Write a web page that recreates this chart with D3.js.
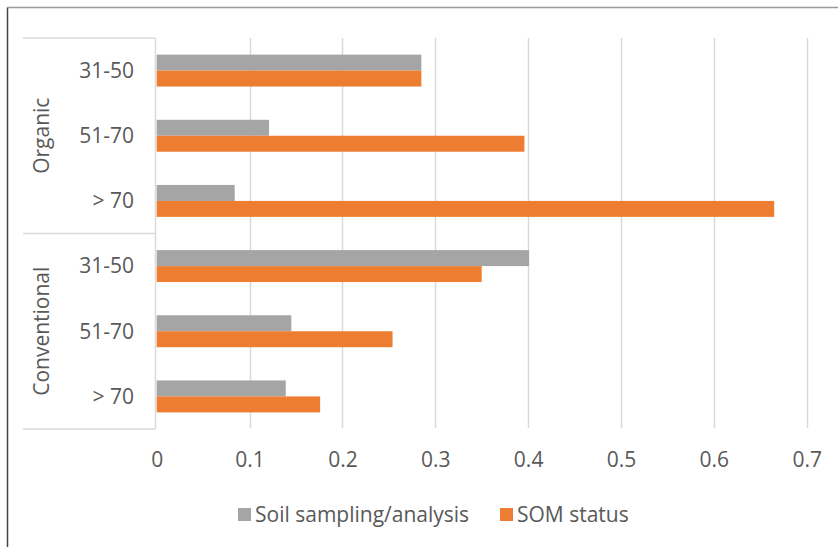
<!DOCTYPE html>
<html>
<head>
<meta charset="utf-8">
<script src="https://cdn.jsdelivr.net/npm/d3@7/dist/d3.min.js"></script>
<style>
  html, body { margin: 0; padding: 0; background: #ffffff; }
  svg { display: block; font-family: "Open Sans", "Noto Sans", sans-serif; }
</style>
</head>
<body>
<svg id="chart" width="838" height="547"></svg>
<script>
// Farm groups and age classes, top to bottom
const groups = ["Organic", "Conventional"];
const ageClasses = ["31-50", "51-70", "> 70"];

// Share of farmers per group/age class
const seriesNames = ["Soil sampling/analysis", "SOM status"];
const soilSampling = [0.285, 0.121, 0.084, 0.401, 0.145, 0.139];
const somStatus    = [0.285, 0.396, 0.665, 0.350, 0.254, 0.176];

const xTicks = [0, 0.1, 0.2, 0.3, 0.4, 0.5, 0.6, 0.7];
const tickLabels = ["0", "0.1", "0.2", "0.3", "0.4", "0.5", "0.6", "0.7"];

const colors = ["#a5a5a5", "#ed7d31"];
const textColor = "#595959";
const gridColor = "#d9d9d9";
const fontSize = 21;

const rows = [];
groups.forEach((g, gi) => ageClasses.forEach((a, ai) => {
  const i = gi * ageClasses.length + ai;
  rows.push({ key: g + "|" + a, group: g, age: a, values: [soilSampling[i], somStatus[i]] });
}));

const svg = d3.select("#chart");

// Outer frame (left and top edges)
svg.append("line").attr("x1", 7.5).attr("x2", 7.5).attr("y1", 7).attr("y2", 547)
  .attr("stroke", "#444").attr("stroke-width", 1.5);
svg.append("line").attr("x1", 7).attr("x2", 838).attr("y1", 7.5).attr("y2", 7.5)
  .attr("stroke", "#999").attr("stroke-width", 1.5);

const plotTop = 38, plotBottom = 429;
const x = d3.scaleLinear().domain([0, 0.7]).range([156.7, 806.7]);
const y = d3.scaleBand().domain(rows.map(r => r.key)).range([plotTop, plotBottom])
  .paddingInner(0.51).paddingOuter(0.255);
const ySub = d3.scaleBand().domain([0, 1]).range([0, y.bandwidth()]);

// Vertical gridlines
svg.append("g").selectAll("line").data(xTicks.slice(1)).join("line")
  .attr("x1", d => Math.round(x(d)) + 0.5).attr("x2", d => Math.round(x(d)) + 0.5)
  .attr("y1", plotTop).attr("y2", plotBottom - 1)
  .attr("stroke", gridColor).attr("stroke-width", 1.5);

// Category axis box with group separators
const boxLeft = 23, boxRight = 155.5;
const boxG = svg.append("g").attr("stroke", gridColor).attr("stroke-width", 1.5);
const groupEdges = [plotTop, y(rows[3].key) - y.step() * y.paddingInner() / 2, plotBottom];
boxG.selectAll("line.h").data(groupEdges).join("line").attr("class", "h")
  .attr("x1", boxLeft).attr("x2", boxRight).attr("y1", d => d).attr("y2", d => d);
boxG.append("line").attr("x1", boxRight).attr("x2", boxRight).attr("y1", plotTop).attr("y2", plotBottom);

// Bars
const rowG = svg.append("g").selectAll("g").data(rows).join("g")
  .attr("transform", d => `translate(0,${y(d.key)})`);
rowG.selectAll("rect").data(d => d.values.map((v, i) => ({ v, i }))).join("rect")
  .attr("x", x(0))
  .attr("y", d => ySub(d.i))
  .attr("width", d => x(d.v) - x(0))
  .attr("height", ySub.bandwidth())
  .attr("fill", d => colors[d.i]);

// Age class labels
svg.append("g").selectAll("text").data(rows).join("text")
  .attr("x", 134).attr("y", d => y(d.key) + y.bandwidth() / 2)
  .attr("dy", "0.35em").attr("text-anchor", "end")
  .attr("fill", textColor).attr("font-size", fontSize)
  .text(d => d.age);

// Group labels (rotated)
groups.forEach((g, gi) => {
  const cy = (groupEdges[gi] + groupEdges[gi + 1]) / 2;
  svg.append("text")
    .attr("transform", `translate(42,${cy}) rotate(-90)`)
    .attr("dy", "0.35em").attr("text-anchor", "middle")
    .attr("fill", textColor).attr("font-size", fontSize)
    .text(g);
});

// Value axis labels
const xAxis = d3.axisBottom(x).tickValues(xTicks).tickSize(0).tickPadding(0)
  .tickFormat((d, i) => tickLabels[i]);
const axG = svg.append("g").attr("transform", `translate(0,460)`).call(xAxis);
axG.select(".domain").remove();
axG.selectAll("text").attr("fill", textColor).attr("font-size", fontSize)
  .attr("font-family", "\"Open Sans\", sans-serif").attr("dy", "0.35em").attr("y", 0);

// Legend
const legendItems = [{ name: seriesNames[0], x: 238 }, { name: seriesNames[1], x: 500 }];
const lg = svg.append("g").selectAll("g").data(legendItems).join("g")
  .attr("transform", d => `translate(${d.x},515)`);
lg.append("rect").attr("x", 0).attr("y", -7).attr("width", 13).attr("height", 13)
  .attr("fill", (d, i) => colors[i]);
lg.append("text").attr("x", 17).attr("y", 0).attr("dy", "0.35em")
  .attr("fill", textColor).attr("font-size", fontSize).text(d => d.name);
</script>
</body>
</html>
